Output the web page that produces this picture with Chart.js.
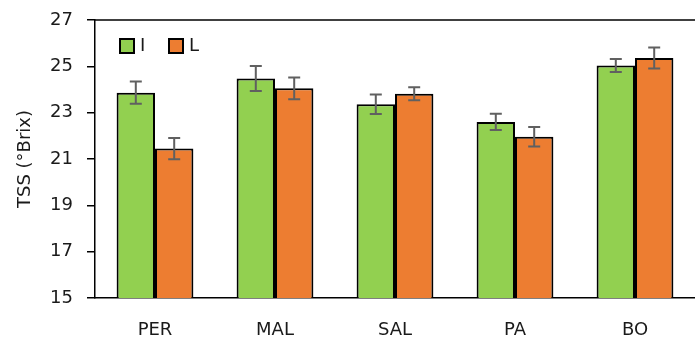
<!DOCTYPE html>
<html>
<head>
<meta charset="utf-8">
<script src="https://cdn.jsdelivr.net/npm/chart.js@4"></script>
<style>
  html, body { margin: 0; padding: 0; background: #fff; }
  #wrap { width: 695px; height: 338px; position: relative; }
</style>
</head>
<body>
<div id="wrap"><canvas id="c"></canvas></div>
<script>
var categories = ['PER', 'MAL', 'SAL', 'PA', 'BO'];
var seriesI = [23.86, 24.47, 23.36, 22.60, 25.04];
var errI = [0.48, 0.54, 0.42, 0.35, 0.28];
var seriesL = [21.45, 24.05, 23.82, 21.96, 25.36];
var errL = [0.46, 0.47, 0.28, 0.42, 0.45];
var yTicks = [15, 17, 19, 21, 23, 25, 27];

var fontFam = '"DejaVu Sans", sans-serif';

// error bars drawn through the y scale
var errorBars = {
    id: 'errorBars',
    afterDatasetsDraw: function(chart) {
        var ctx = chart.ctx;
        var y = chart.scales.y;
        ctx.save();
        ctx.strokeStyle = '#606060';
        ctx.lineWidth = 2;
        chart.data.datasets.forEach(function(ds, di) {
            var meta = chart.getDatasetMeta(di);
            meta.data.forEach(function(bar, i) {
                var v = ds.data[i], e = ds.errors[i];
                var top = y.getPixelForValue(v + e);
                var bot = y.getPixelForValue(v - e);
                ctx.beginPath();
                ctx.moveTo(bar.x, top); ctx.lineTo(bar.x, bot);
                ctx.moveTo(bar.x - 6, top); ctx.lineTo(bar.x + 6, top);
                ctx.moveTo(bar.x - 6, bot); ctx.lineTo(bar.x + 6, bot);
                ctx.stroke();
            });
        });
        ctx.restore();
    }
};

// top frame line and legend inside the plot
var frameLegend = {
    id: 'frameLegend',
    afterDraw: function(chart) {
        var ctx = chart.ctx;
        var a = chart.chartArea;
        ctx.save();
        ctx.strokeStyle = '#000';
        ctx.lineWidth = 1.5;
        ctx.beginPath();
        ctx.moveTo(a.left, a.top);
        ctx.lineTo(a.right, a.top);
        ctx.stroke();

        var x = a.left + 25, yy = a.top + 19;
        ctx.font = '18px ' + fontFam;
        ctx.textBaseline = 'middle';
        chart.data.datasets.forEach(function(ds) {
            ctx.fillStyle = ds.backgroundColor;
            ctx.fillRect(x, yy, 14, 14);
            ctx.lineWidth = 2;
            ctx.strokeStyle = '#000';
            ctx.strokeRect(x, yy, 14, 14);
            ctx.fillStyle = '#1a1a1a';
            ctx.fillText(ds.label, x + 20, yy + 7.5);
            x += 49;
        });
        ctx.restore();
    }
};

var ctx = document.getElementById('c');
var chart = new Chart(ctx, {
    type: 'bar',
    data: {
        labels: categories,
        datasets: [
            { label: 'I', data: seriesI, errors: errI, backgroundColor: '#92D050', borderColor: '#000', borderWidth: 2 },
            { label: 'L', data: seriesL, errors: errL, backgroundColor: '#ED7D31', borderColor: '#000', borderWidth: 2 }
        ]
    },
    options: {
        responsive: true,
        maintainAspectRatio: false,
        animation: false,
        devicePixelRatio: 1,
        layout: { padding: { top: 20, right: 0, left: 0, bottom: 0 } },
        categoryPercentage: 0.64,
        barPercentage: 1.0,
        plugins: {
            legend: { display: false },
            tooltip: { enabled: false }
        },
        scales: {
            x: {
                grid: { display: true, drawOnChartArea: false, drawTicks: false },
                border: { display: true, color: '#000', width: 1.5 },
                ticks: { color: '#1a1a1a', font: { family: fontFam, size: 18 }, padding: 22 },
                afterFit: function(s) { s.height = 40; s.paddingLeft = 0; s.paddingRight = 0; }
            },
            y: {
                min: 15,
                max: 27,
                afterBuildTicks: function(s) { s.ticks = yTicks.map(function(v) { return { value: v }; }); },
                grid: { display: true, drawOnChartArea: false, drawTicks: true, tickLength: 8, color: '#000', lineWidth: 1.5 },
                border: { display: true, color: '#000', width: 1.5 },
                ticks: { color: '#1a1a1a', font: { family: fontFam, size: 18 }, padding: 14 },
                title: {
                    display: true,
                    text: 'TSS (°Brix)',
                    color: '#1a1a1a',
                    font: { family: fontFam, size: 18 },
                    padding: { top: 15, bottom: 0 }
                },
                afterFit: function(s) { s.width = 95; s.paddingTop = 0; s.paddingBottom = 0; }
            }
        }
    },
    plugins: [errorBars, frameLegend]
});
</script>
</body>
</html>
